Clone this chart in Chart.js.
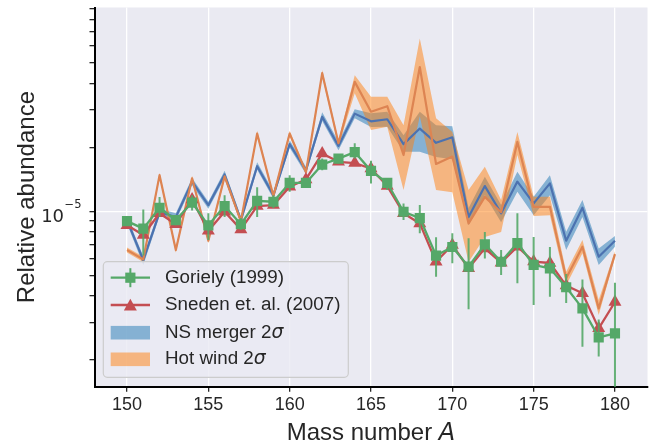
<!DOCTYPE html>
<html><head><meta charset="utf-8">
<script src="https://cdn.jsdelivr.net/npm/chart.js@4.4.0/dist/chart.umd.min.js"></script>
<style>html,body{margin:0;padding:0;background:#fff}#wrap{width:655px;height:445px;position:relative}canvas{display:block}</style>
</head><body><div id="wrap"><canvas id="c" width="655" height="445"></canvas></div>
<script>
const massNumber = [150,151,152,153,154,155,156,157,158,159,160,161,162,163,164,165,166,167,168,169,170,171,172,173,174,175,176,177,178,179,180];

const gorielyValues = [9.0e-6,8.3e-6,1.04e-5,9.1e-6,1.10e-5,8.6e-6,1.06e-5,8.7e-6,1.12e-5,1.11e-5,1.36e-5,1.36e-5,1.66e-5,1.77e-5,1.90e-5,1.55e-5,1.36e-5,9.96e-6,9.3e-6,6.2e-6,6.8e-6,5.5e-6,7.0e-6,5.8e-6,7.1e-6,5.6e-6,5.4e-6,4.4e-6,3.5e-6,2.56e-6,2.67e-6];
const gorielyErrHigh = [9.4e-6,1.02e-5,1.167e-5,9.6e-6,1.19e-5,9.8e-6,1.19e-5,9.3e-6,1.30e-5,1.19e-5,1.48e-5,1.43e-5,1.77e-5,1.84e-5,2.09e-5,1.73e-5,1.43e-5,1.09e-5,1.07e-5,7.55e-6,7.9e-6,7.47e-6,8.0e-6,6.58e-6,9.8e-6,7.57e-6,6.8e-6,5.08e-6,4.78e-6,3.1e-6,4.62e-6];
const gorielyErrLow = [8.6e-6,6.2e-6,9.4e-6,8.6e-6,1.01e-5,7.33e-6,9.4e-6,8.2e-6,9.4e-6,1.036e-5,1.236e-5,1.30e-5,1.56e-5,1.68e-5,1.77e-5,1.353e-5,1.26e-5,9.1e-6,7.9e-6,4.93e-6,5.7e-6,3.47e-6,6.0e-6,5.02e-6,4.59e-6,3.63e-6,3.97e-6,3.71e-6,2.31e-6,2.08e-6,1.2e-6];

const snedenValues = [8.6e-6,7.74e-6,9.8e-6,8.69e-6,1.138e-5,8.1e-6,9.96e-6,8.23e-6,1.059e-5,1.07e-5,1.305e-5,1.413e-5,1.872e-5,1.71e-5,1.686e-5,1.59e-5,1.315e-5,9.8e-6,8.78e-6,5.8e-6,6.95e-6,5.4e-6,6.7e-6,5.74e-6,6.82e-6,5.81e-6,5.72e-6,4.48e-6,4.12e-6,2.82e-6,3.75e-6];

const nsMedian = [9.1e-6,5.9e-6,9.9e-6,9.4e-6,1.38e-5,1.07e-5,1.49e-5,9.1e-6,1.63e-5,1.19e-5,2.07e-5,1.56e-5,2.78e-5,2.03e-5,2.88e-5,2.65e-5,2.71e-5,2.07e-5,2.45e-5,2.10e-5,2.23e-5,9.4e-6,1.315e-5,9.8e-6,1.38e-5,1.09e-5,1.354e-5,7.28e-6,1.04e-5,6.12e-6,7.28e-6];
const nsHigh = [9.46e-6,6.15e-6,1.03e-5,9.8e-6,1.435e-5,1.11e-5,1.55e-5,9.45e-6,1.70e-5,1.24e-5,2.16e-5,1.62e-5,2.92e-5,2.13e-5,3.02e-5,2.89e-5,2.94e-5,2.28e-5,2.94e-5,2.54e-5,2.51e-5,1.036e-5,1.453e-5,1.07e-5,1.535e-5,1.17e-5,1.48e-5,8.02e-6,1.13e-5,6.7e-6,7.66e-6];
const nsLow = [8.75e-6,5.6e-6,9.5e-6,9.0e-6,1.325e-5,1.03e-5,1.43e-5,8.75e-6,1.57e-5,1.145e-5,1.99e-5,1.50e-5,2.66e-5,1.94e-5,2.74e-5,2.49e-5,2.50e-5,1.905e-5,1.905e-5,1.80e-5,1.76e-5,8.6e-6,1.19e-5,8.9e-6,1.236e-5,9.6e-6,1.19e-5,6.58e-6,9.4e-6,5.6e-6,6.82e-6];

const windMedian = [6.58e-6,5.95e-6,1.48e-5,6.58e-6,1.43e-5,7.28e-6,1.46e-5,9.0e-6,2.32e-5,1.18e-5,2.32e-5,1.53e-5,4.46e-5,2.09e-5,4.06e-5,2.94e-5,3.12e-5,1.84e-5,4.77e-5,1.67e-5,1.81e-5,8.78e-6,1.17e-5,9.9e-6,2.12e-5,1.05e-5,1.05e-5,4.85e-6,6.82e-6,3.5e-6,6.3e-6];
const windHigh = [6.76e-6,6.12e-6,1.52e-5,6.76e-6,1.47e-5,7.48e-6,1.50e-5,9.25e-6,2.39e-5,1.21e-5,2.39e-5,1.57e-5,4.62e-5,2.16e-5,4.36e-5,3.46e-5,3.46e-5,2.54e-5,6.49e-5,2.74e-5,2.36e-5,1.26e-5,1.62e-5,1.13e-5,2.36e-5,1.17e-5,1.17e-5,5.2e-6,7.33e-6,3.83e-6,6.5e-6];
const windLow = [6.40e-6,5.79e-6,1.44e-5,6.40e-6,1.39e-5,7.08e-6,1.42e-5,8.75e-6,2.26e-5,1.15e-5,2.26e-5,1.49e-5,4.30e-5,2.02e-5,3.59e-5,2.41e-5,2.50e-5,1.26e-5,2.80e-5,1.26e-5,1.23e-5,5.78e-6,7.57e-6,8.0e-6,1.84e-5,9.5e-6,9.6e-6,4.5e-6,6.35e-6,3.26e-6,6.1e-6];

const xTicks = [150,155,160,165,170,175,180];
const yTicks = [2e-6,3e-6,4e-6,5e-6,6e-6,7e-6,8e-6,9e-6,1e-5,2e-5,3e-5,4e-5,5e-5,6e-5,7e-5,8e-5,9e-5];
const yLabelTick = 1e-5;

const legendLabels = ['Goriely (1999)','Sneden et. al. (2007)','NS merger 2','Hot wind 2'];

const GREEN='#55A868', RED='#C44E52', BLUE='#4C72B0', ORANGE='#DD8452';
const BLUEFILL='rgba(31,119,180,0.5)', ORANGEFILL='rgba(255,127,14,0.5)';
const TEXT='#262626';
const SANS='"Liberation Sans", Arial, sans-serif';
const MATH='"DejaVu Sans", sans-serif';

function pts(ys){ return massNumber.map((x,i)=>({x:x, y:ys[i]})); }

const lineBase = {tension:0, pointRadius:0, borderJoinStyle:'round', borderCapStyle:'butt', fill:false};

const datasets = [
  Object.assign({}, lineBase, {label:legendLabels[0], data:pts(gorielyValues), borderColor:GREEN, backgroundColor:GREEN, borderWidth:2.3, pointStyle:'rect', pointRadius:7.2, pointBackgroundColor:GREEN, pointBorderColor:GREEN, pointBorderWidth:0}),
  Object.assign({}, lineBase, {label:legendLabels[1], data:pts(snedenValues), borderColor:RED, backgroundColor:RED, borderWidth:2.3, pointStyle:'triangle', pointRadius:7.5, pointBackgroundColor:RED, pointBorderColor:RED, pointBorderWidth:0}),
  Object.assign({}, lineBase, {label:'Hot wind median', data:pts(windMedian), borderColor:ORANGE, borderWidth:2.2}),
  Object.assign({}, lineBase, {label:'NS merger median', data:pts(nsMedian), borderColor:BLUE, borderWidth:2.2}),
  Object.assign({}, lineBase, {label:'Hot wind upper', data:pts(windHigh), borderWidth:0, borderColor:'rgba(0,0,0,0)', backgroundColor:ORANGEFILL, fill:5}),
  Object.assign({}, lineBase, {label:'Hot wind lower', data:pts(windLow), borderWidth:0, borderColor:'rgba(0,0,0,0)'}),
  Object.assign({}, lineBase, {label:'NS merger upper', data:pts(nsHigh), borderWidth:0, borderColor:'rgba(0,0,0,0)', backgroundColor:BLUEFILL, fill:7}),
  Object.assign({}, lineBase, {label:'NS merger lower', data:pts(nsLow), borderWidth:0, borderColor:'rgba(0,0,0,0)'})
];

const bgPlugin = {
  id:'bg',
  beforeDraw(chart){
    const a = chart.chartArea, ctx = chart.ctx;
    ctx.save(); ctx.fillStyle='#EAEAF2';
    ctx.fillRect(a.left, a.top, a.right-a.left, a.bottom-a.top);
    ctx.restore();
  }
};

const errPlugin = {
  id:'errbars',
  beforeDatasetDraw(chart, args){
    if (args.index !== 0) return;
    const ctx = chart.ctx, a = chart.chartArea, xs = chart.scales.x, ys = chart.scales.y;
    ctx.save();
    ctx.beginPath(); ctx.rect(a.left, a.top, a.right-a.left, a.bottom-a.top); ctx.clip();
    ctx.strokeStyle = GREEN; ctx.lineWidth = 2; ctx.globalAlpha = 0.9;
    massNumber.forEach((m,i)=>{
      const px = xs.getPixelForValue(m);
      ctx.beginPath();
      ctx.moveTo(px, ys.getPixelForValue(gorielyErrHigh[i]));
      ctx.lineTo(px, ys.getPixelForValue(gorielyErrLow[i]));
      ctx.stroke();
    });
    ctx.restore();
  }
};

function mixedText(ctx, parts, x, y, align){
  let total = 0;
  parts.forEach(p=>{ ctx.font=p.font; p.w = ctx.measureText(p.t).width; total += p.w; });
  let cx = align==='center' ? x - total/2 : x;
  ctx.textAlign='left';
  parts.forEach(p=>{ ctx.font=p.font; ctx.fillText(p.t, cx, y); cx += p.w; });
}

const textPlugin = {
  id:'texts',
  afterDraw(chart){
    const ctx = chart.ctx, a = chart.chartArea, ys = chart.scales.y;
    ctx.save();
    ctx.fillStyle = TEXT; ctx.textBaseline='alphabetic';
    mixedText(ctx, [{t:'Mass number ', font:'24px '+SANS},{t:'A', font:'oblique 24px '+MATH}], (a.left+a.right)/2, 439.5, 'center');
    ctx.save();
    ctx.translate(33.5, (a.top+a.bottom)/2);
    ctx.rotate(-Math.PI/2);
    ctx.textAlign='center'; ctx.font='24px '+SANS;
    ctx.fillText('Relative abundance', 0, 0);
    ctx.restore();
    const y1 = ys.getPixelForValue(yLabelTick);
    ctx.font = '11.5px '+MATH; const supW = ctx.measureText('\u22125').width;
    ctx.textAlign='right';
    ctx.fillText('\u22125', 81.5, y1-3);
    ctx.font = '18px '+MATH;
    ctx.fillText('10', 81.5 - supW - 0.5, y1+10.4);
    const L = {x:103.3, y:261.7, w:245, h:115.6, r:4};
    ctx.beginPath();
    ctx.moveTo(L.x+L.r, L.y);
    ctx.lineTo(L.x+L.w-L.r, L.y); ctx.arcTo(L.x+L.w, L.y, L.x+L.w, L.y+L.r, L.r);
    ctx.lineTo(L.x+L.w, L.y+L.h-L.r); ctx.arcTo(L.x+L.w, L.y+L.h, L.x+L.w-L.r, L.y+L.h, L.r);
    ctx.lineTo(L.x+L.r, L.y+L.h); ctx.arcTo(L.x, L.y+L.h, L.x, L.y+L.h-L.r, L.r);
    ctx.lineTo(L.x, L.y+L.r); ctx.arcTo(L.x, L.y, L.x+L.r, L.y, L.r);
    ctx.closePath();
    ctx.fillStyle='rgba(234,234,242,0.8)'; ctx.fill();
    ctx.strokeStyle='#CCCCCC'; ctx.lineWidth=1.2; ctx.stroke();
    const rows = [277.7, 305, 332.7, 359.3];
    const hx0 = 110.7, hx1 = 150, hc = (hx0+hx1)/2, tx = 165;
    ctx.strokeStyle=GREEN; ctx.lineWidth=2.3;
    ctx.beginPath(); ctx.moveTo(hx0, rows[0]); ctx.lineTo(hx1, rows[0]); ctx.stroke();
    ctx.lineWidth=2; ctx.beginPath(); ctx.moveTo(hc, rows[0]-9.5); ctx.lineTo(hc, rows[0]+9.5); ctx.stroke();
    ctx.fillStyle=GREEN; ctx.fillRect(hc-5.1, rows[0]-5.1, 10.2, 10.2);
    ctx.strokeStyle=RED; ctx.lineWidth=2.3;
    ctx.beginPath(); ctx.moveTo(hx0, rows[1]); ctx.lineTo(hx1, rows[1]); ctx.stroke();
    ctx.fillStyle=RED; ctx.beginPath();
    ctx.moveTo(hc, rows[1]-6.2); ctx.lineTo(hc+6.5, rows[1]+5.4); ctx.lineTo(hc-6.5, rows[1]+5.4); ctx.closePath(); ctx.fill();
    ctx.fillStyle=BLUEFILL; ctx.fillRect(hx0, rows[2]-6.8, hx1-hx0, 13.6);
    ctx.fillStyle=ORANGEFILL; ctx.fillRect(hx0, rows[3]-6.8, hx1-hx0, 13.6);
    ctx.fillStyle=TEXT; ctx.textBaseline='middle';
    ctx.textAlign='left'; ctx.font='18.8px '+SANS;
    ctx.fillText(legendLabels[0], tx, rows[0]);
    ctx.fillText(legendLabels[1], tx, rows[1]);
    mixedText(ctx, [{t:legendLabels[2], font:'18.8px '+SANS},{t:'\u03C3', font:'oblique 18.8px '+MATH}], tx, rows[2], 'left');
    mixedText(ctx, [{t:legendLabels[3], font:'18.8px '+SANS},{t:'\u03C3', font:'oblique 18.8px '+MATH}], tx, rows[3], 'left');
    ctx.restore();
  }
};

new Chart(document.getElementById('c'), {
  type:'line',
  data:{datasets:datasets},
  options:{
    responsive:false, animation:false, devicePixelRatio:1,
    layout:{padding:{left:0, right:7.3, top:7.3, bottom:0}},
    plugins:{legend:{display:false}, tooltip:{enabled:false}, filler:{propagate:false}},
    scales:{
      x:{
        type:'linear', min:148, max:182,
        afterBuildTicks:(s)=>{ s.ticks = xTicks.map(v=>({value:v})); },
        afterFit:(s)=>{ s.height = 58.3; s.paddingLeft = 0; s.paddingRight = 0; },
        grid:{color:'#FFFFFF', lineWidth:1.3, tickColor:TEXT, tickLength:5, tickWidth:1.3},
        border:{display:true, color:'#000000', width:2},
        ticks:{font:{family:SANS, size:18}, color:TEXT, padding:3, maxRotation:0, autoSkip:false, callback:(v)=>String(v)}
      },
      y:{
        type:'logarithmic', min:1.5e-6, max:9.08e-5,
        afterBuildTicks:(s)=>{ s.ticks = yTicks.map(v=>({value:v})); },
        afterFit:(s)=>{ s.width = 94.5; s.paddingTop = 0; s.paddingBottom = 0; },
        grid:{color:(c)=> (c.tick && c.tick.value===yLabelTick) ? '#FFFFFF' : 'rgba(0,0,0,0)', lineWidth:1.3, tickColor:TEXT, tickLength:5, tickWidth:1.3},
        border:{display:true, color:'#000000', width:2},
        ticks:{font:{family:SANS, size:1}, color:TEXT, padding:0, autoSkip:false, callback:()=>''}
      }
    }
  },
  plugins:[bgPlugin, errPlugin, textPlugin]
});
</script>
</body></html>
